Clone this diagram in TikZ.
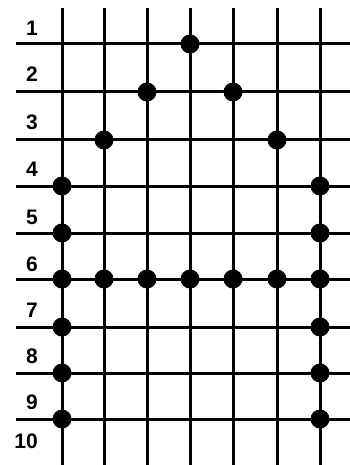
\documentclass[tikz,border=0pt]{standalone}
\usepackage{fontspec}
\setmainfont{Liberation Sans}
\begin{document}
\begin{tikzpicture}[x=1pt,y=-1pt,
  gridline/.style={line width=3pt,black},
  dot/.style={circle,fill=black,inner sep=0pt,minimum size=19pt},
  rowlabel/.style={anchor=east,inner sep=0pt,font=\fontsize{21}{21}\selectfont\bfseries}]
\useasboundingbox[fill=white] (0,0) rectangle (350,465);
% column x positions and row y positions
\def\cols{62,104,147,190,233,277,320}
\foreach \x in \cols {\draw[gridline] (\x,8) -- (\x,465);}
\foreach \y in {44,92,140,186,233,279,327,373,419} {\draw[gridline] (16,\y) -- (350,\y);}
% row labels
\foreach \t/\y in {1/28,2/74,3/122,4/169,5/217,6/264,7/310,8/356,9/402,10/441}
  {\node[rowlabel] (lab\t) at (38,\y) {\t};}
% dots
\foreach \n/\x/\y in {a/190/44, b/147/92, c/233/92, d/104/140, e/277/140,
  f/62/186, g/320/186, h/62/233, i/320/233,
  j1/62/279, j2/104/279, j3/147/279, j4/190/279, j5/233/279, j6/277/279, j7/320/279,
  k/62/327, l/320/327, m/62/373, n/320/373, o/62/419, p/320/419}
  {\node[dot] (dot\n) at (\x,\y) {};}
\end{tikzpicture}
\end{document}
